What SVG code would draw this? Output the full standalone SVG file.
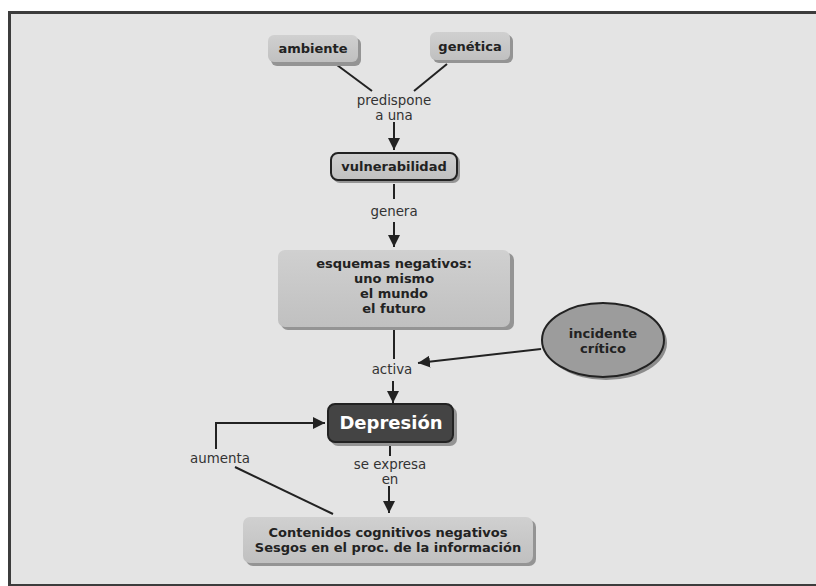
<svg xmlns="http://www.w3.org/2000/svg" width="816" height="586" viewBox="0 0 816 586">
<defs>
<style>
.lbl{font-family:"DejaVu Sans",Verdana,sans-serif;font-size:13.4px;fill:#333;text-anchor:middle}
.nt{font-family:"DejaVu Sans",Verdana,sans-serif;font-size:13px;font-weight:bold;fill:#222;text-anchor:middle}
.big{font-family:"DejaVu Sans",Verdana,sans-serif;font-size:18px;font-weight:bold;fill:#fff;text-anchor:middle}
.sh{fill:#949494}
.box{fill:url(#g1)}
.ln{stroke:#222;stroke-width:2;fill:none}
</style>
<linearGradient id="g1" x1="0" y1="0" x2="0" y2="1">
<stop offset="0" stop-color="#d0d0d0"/>
<stop offset="1" stop-color="#c0c0c0"/>
</linearGradient>
<marker id="ah" markerWidth="12" markerHeight="12" viewBox="0 0 12 12" refX="12" refY="6" orient="auto" markerUnits="userSpaceOnUse">
<path d="M0,0 L12,6 L0,12 Z" fill="#222"/>
</marker>
</defs>
<rect x="0" y="0" width="816" height="586" fill="#fff"/>
<rect x="8" y="11" width="808" height="575" fill="#3c3c3c"/>
<rect x="11" y="14" width="805" height="570" fill="#e4e4e4"/>

<g id="connectors">
<line class="ln" x1="337" y1="65" x2="372" y2="91"/>
<line class="ln" x1="447" y1="64" x2="414" y2="91"/>
<line class="ln" x1="394" y1="122" x2="394" y2="150" marker-end="url(#ah)"/>
<line class="ln" x1="394" y1="184" x2="394" y2="199"/>
<line class="ln" x1="394" y1="222" x2="394" y2="247" marker-end="url(#ah)"/>
<line class="ln" x1="394" y1="330" x2="394" y2="359"/>
<line class="ln" x1="393" y1="381" x2="393" y2="403" marker-end="url(#ah)"/>
<line class="ln" x1="541" y1="349" x2="418" y2="363" marker-end="url(#ah)"/>
<polyline class="ln" points="216,449 216,423 325,423" marker-end="url(#ah)"/>
<line class="ln" x1="235" y1="467" x2="333" y2="514"/>
<line class="ln" x1="390" y1="445" x2="390" y2="456"/>
<line class="ln" x1="389" y1="486" x2="389" y2="513" marker-end="url(#ah)"/>
<text class="lbl" x="394" y="105">predispone</text>
<text class="lbl" x="394" y="120">a una</text>
<text class="lbl" x="394" y="216">genera</text>
<text class="lbl" x="392" y="374">activa</text>
<text class="lbl" x="220" y="463">aumenta</text>
<text class="lbl" x="390" y="469">se expresa</text>
<text class="lbl" x="390" y="484">en</text>
</g>

<g id="ambiente">
<rect class="sh" x="271" y="38" width="90" height="28" rx="6"/>
<rect class="box" x="268" y="35" width="90" height="27" rx="6"/>
<text class="nt" x="313" y="53">ambiente</text>
</g>
<g id="genetica">
<rect class="sh" x="433" y="35" width="80" height="28" rx="6"/>
<rect class="box" x="430" y="32" width="80" height="28" rx="6"/>
<text class="nt" x="470" y="51">genética</text>
</g>
<g id="vulnerabilidad">
<rect class="sh" x="333" y="155" width="127" height="28" rx="7"/>
<rect class="box" x="331" y="153" width="126" height="27" rx="7" stroke="#222" stroke-width="2"/>
<text class="nt" x="394" y="171">vulnerabilidad</text>
</g>
<g id="esquemas">
<rect class="sh" x="281" y="253" width="233" height="77" rx="7"/>
<rect class="box" x="278" y="250" width="232" height="77" rx="7"/>
<text class="nt" x="394" y="268">esquemas negativos:</text>
<text class="nt" x="394" y="283">uno mismo</text>
<text class="nt" x="394" y="298">el mundo</text>
<text class="nt" x="394" y="313">el futuro</text>
</g>
<g id="incidente">
<ellipse cx="606" cy="343" rx="61" ry="37" fill="#8c8c8c"/>
<ellipse cx="603" cy="340" rx="61" ry="37" fill="#9c9c9c" stroke="#222" stroke-width="2"/>
<text class="nt" x="603" y="338">incidente</text>
<text class="nt" x="603" y="353">crítico</text>
</g>
<g id="depresion">
<rect class="sh" x="331" y="407" width="126" height="39" rx="7"/>
<rect x="328" y="404" width="125" height="38" rx="7" fill="#444" stroke="#222" stroke-width="2"/>
<text class="big" x="391" y="429">Depresión</text>
</g>
<g id="contenidos">
<rect class="sh" x="246" y="520" width="290" height="46" rx="7"/>
<rect class="box" x="243" y="517" width="290" height="46" rx="7"/>
<text class="nt" x="388" y="537">Contenidos cognitivos negativos</text>
<text class="nt" x="388" y="552">Sesgos en el proc. de la información</text>
</g>
</svg>
